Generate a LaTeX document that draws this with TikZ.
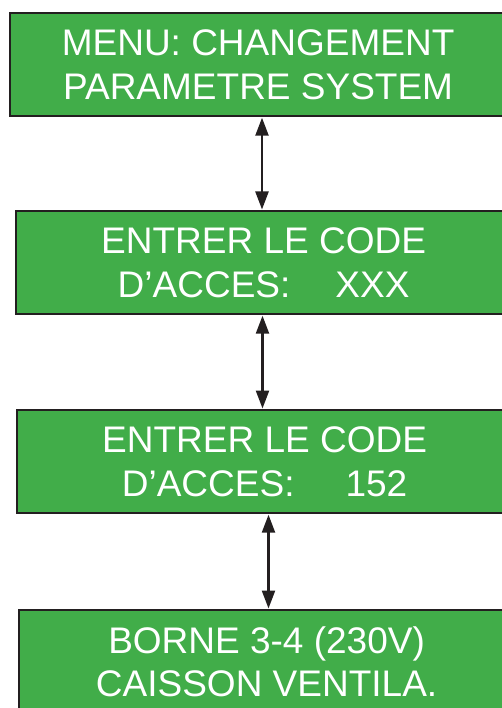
\documentclass[tikz,border=0pt]{standalone}
\usepackage{fontspec}
\setmainfont{Liberation Sans}
\usetikzlibrary{arrows.meta}
\definecolor{boxgreen}{RGB}{65,173,73}
\definecolor{boxline}{RGB}{35,31,32}
\tikzset{
  greenbox/.style={draw=boxline, line width=2.2pt, fill=boxgreen, text=white,
    minimum width=496pt, minimum height=103pt, inner sep=0pt, align=center,
    anchor=north west, font=\fontsize{37}{43.5}\selectfont},
  biarrow/.style={draw=boxline, line width=2.3pt,
    {Triangle[width=13pt,length=18pt]}-{Triangle[width=13pt,length=18pt]}, shorten <=0.5pt, shorten >=0.5pt}
}
\begin{document}
\begin{tikzpicture}[x=1pt,y=-1pt]
\useasboundingbox (0,0) rectangle (502,708);
\clip (0,0) rectangle (502,708);
\node[greenbox] (b1) at (9,12) {MENU: CHANGEMENT\\PARAMETRE SYSTEM};
\node[greenbox] (b2) at (14.5,210) {ENTRER LE CODE\\D’ACCES:\hspace{45pt}XXX};
\node[greenbox] (b3) at (15.5,409) {ENTRER LE CODE\\D’ACCES:\hspace{51pt}152};
\node[greenbox] (b4) at (17.5,609) {BORNE 3-4 (230V)\\CAISSON VENTILA.};
\coordinate (x1) at (262,0);
\coordinate (x2) at (262.5,0);
\coordinate (x3) at (268.5,0);
\draw[biarrow] (b1.south -| x1) -- (b2.north -| x1);
\draw[biarrow] (b2.south -| x2) -- (b3.north -| x2);
\draw[biarrow] (b3.south -| x3) -- (b4.north -| x3);
\end{tikzpicture}
\end{document}
